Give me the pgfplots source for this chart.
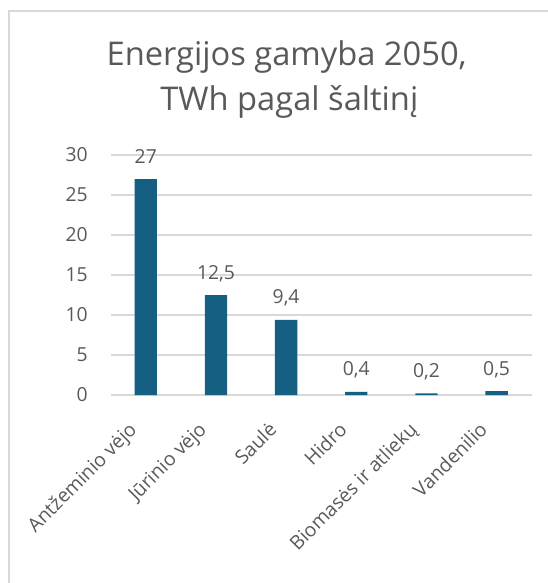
\documentclass[border=0pt]{standalone}
\usepackage{pgfplots}
\pgfplotsset{compat=1.18}
\usepackage{fontspec}
\setmainfont{Open Sans}
\definecolor{barc}{HTML}{156082}
\definecolor{txt}{HTML}{595959}
\definecolor{gridc}{HTML}{D9D9D9}
\begin{document}
\begin{tikzpicture}
\useasboundingbox (0pt,0pt) rectangle (411pt,437.25pt);
\draw[gridc, line width=1.5pt] (6.75pt,0pt) -- (6.75pt,429pt) -- (411pt,429pt);
\node[txt, font=\fontsize{24.5}{29}\selectfont, anchor=base, inner sep=0pt] at (215pt,388pt) {Energijos gamyba 2050,};
\node[txt, font=\fontsize{24.5}{29}\selectfont, anchor=base, inner sep=0pt] at (217pt,354.5pt) {TWh pagal šaltinį};
\begin{axis}[
  at={(83.03pt,141pt)}, anchor=south west,
  scale only axis, width=315.75pt, height=180pt,
  ybar, bar width=16.8pt,
  xmin=-0.5, xmax=5.5, ymin=0, ymax=30,
  ytick={0,5,...,30},
  xtick={0,1,2,3,4,5},
  xticklabels={Antžeminio vėjo, Jūrinio vėjo, Saulė, Hidro, Biomasės ir atliekų, Vandenilio},
  axis line style={draw=none},
  major tick length=0pt,
  ymajorgrids,
  grid style={gridc, line width=1.4pt},
  clip=false,
  /pgf/number format/.cd, use comma, assume math mode=true, 1000 sep={},
  /pgfplots/.cd,
  ticklabel style={txt, font=\fontsize{14.5}{17}\selectfont},
  yticklabel style={anchor=east, inner sep=0pt, xshift=-17pt},
  xticklabel style={xshift=-14pt, yshift=-6pt, rotate=45, anchor=north east, inner sep=0pt},
  xticklabel shift=13pt,
  nodes near coords,
  nodes near coords style={txt, font=\fontsize{14.5}{17}\selectfont, anchor=base, inner sep=0pt, yshift=12pt,
    /pgf/number format/.cd, use comma, assume math mode=true},
]
\addplot[fill=barc, draw=none] coordinates {(0,27) (1,12.5) (2,9.4) (3,0.4) (4,0.2) (5,0.5)};
\end{axis}
\end{tikzpicture}
\end{document}
